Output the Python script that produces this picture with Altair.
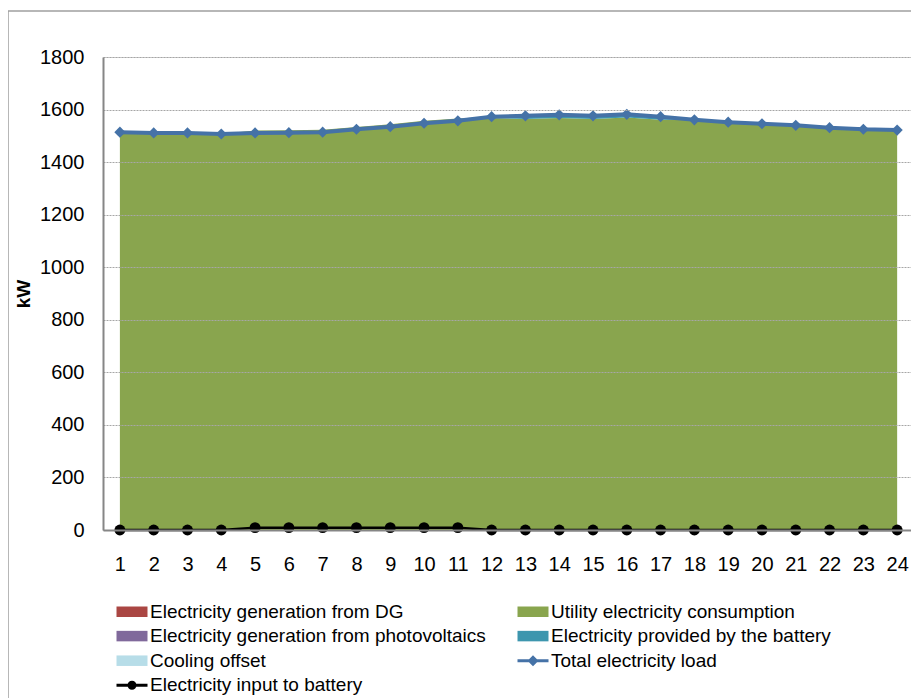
import altair as alt
import pandas as pd

hours = list(range(1, 25))
total_load = [1514, 1511, 1511, 1507, 1511, 1512, 1514, 1525, 1535, 1548, 1557, 1573,
              1576, 1580, 1576, 1582, 1573, 1561, 1552, 1546, 1540, 1531, 1525, 1522]
utility = [1514, 1511, 1511, 1507, 1520, 1521, 1523, 1534, 1544, 1557, 1566, 1568,
           1564, 1568, 1564, 1570, 1561, 1561, 1552, 1546, 1540, 1531, 1525, 1522]
battery_provided = [0, 0, 0, 0, 0, 0, 0, 0, 0, 0, 0, 5,
                    12, 12, 12, 12, 12, 0, 0, 0, 0, 0, 0, 0]
battery_input = [0, 0, 0, 0, 9, 9, 9, 9, 9, 9, 9, 0,
                 0, 0, 0, 0, 0, 0, 0, 0, 0, 0, 0, 0]
dg = [0] * 24
pv = [0] * 24
cooling = [0] * 24

# legend order (filled column by column: left column first, then right column)
series_names = ["Electricity generation from DG", "Electricity generation from photovoltaics",
                "Cooling offset", "Electricity input to battery",
                "Utility electricity consumption", "Electricity provided by the battery",
                "Total electricity load"]
series_colors = ["#AA4643", "#80699B", "#B7DDE8", "#000000", "#89A54E", "#3D96AE", "#4572A7"]
y_ticks = [0, 200, 400, 600, 800, 1000, 1200, 1400, 1600, 1800]

# stacked area components, bottom first
area_names = ["Electricity generation from DG", "Electricity generation from photovoltaics",
              "Utility electricity consumption", "Electricity provided by the battery", "Cooling offset"]
area_values = [dg, pv, utility, battery_provided, cooling]
area_colors = ["#AA4643", "#80699B", "#89A54E", "#3D96AE", "#B7DDE8"]

rows = []
for k, (nm, vals) in enumerate(zip(area_names, area_values)):
    for h, v in zip(hours, vals):
        rows.append({"hour": h, "component": nm, "value": v, "ord": k})
area_df = pd.DataFrame(rows)
line_df = pd.DataFrame({"hour": hours, "total": total_load, "input": battery_input})
legend_df = pd.DataFrame({"series": series_names})
frame_df = pd.DataFrame({"a": [0]})

FONT = "Liberation Sans"
W, H = 808, 473

rect_path = "M-1,-1.05H5.2V1.05H-1Z"
diamond_path = "M-1,-0.3H5.2V0.3H-1Z M2.1,-1.1L3.2,0L2.1,1.1L1,0Z"
circle_path = "M-1,-0.3H5.2V0.3H-1Z M1.2,0A0.9,0.9 0 1,1 3.0,0A0.9,0.9 0 1,1 1.2,0Z"
series_paths = [rect_path, rect_path, rect_path, circle_path, rect_path, rect_path, diamond_path]

xscale = alt.Scale(domain=[0.5, 24.41], nice=False, zero=False)
yscale = alt.Scale(domain=[0, 1800], nice=False)

xaxis = alt.Axis(values=hours, title=None, ticks=False, grid=False, labelFont=FONT,
                 labelFontSize=20, labelColor="black", labelPadding=24, labelOverlap=False,
                 domainColor="#868686", domainWidth=2, zindex=1, labelFlush=False, format="d")
yaxis = alt.Axis(values=y_ticks, title="kW", ticks=False, grid=True, gridDash=[2, 1],
                 gridColor="#a6a6a6", gridWidth=1, labelFont=FONT, labelFontSize=20,
                 labelColor="black", labelPadding=19, domainColor="#868686", domainWidth=2,
                 titleFont=FONT, titleFontSize=19, titleFontWeight="bold", titleColor="black",
                 titlePadding=6, zindex=1, format="d", labelOverlap=False)

frame = alt.Chart(frame_df).mark_rect(fill=None, stroke="#a0a0a0", strokeWidth=1.5, clip=False).encode(
    x=alt.value(-95), x2=alt.value(W + 60), y=alt.value(-46), y2=alt.value(H + 300))

area = alt.Chart(area_df).mark_area(opacity=1, interpolate="linear").encode(
    x=alt.X("hour:Q", scale=xscale, axis=xaxis),
    y=alt.Y("value:Q", stack="zero", scale=yscale, axis=yaxis),
    color=alt.Color("component:N", scale=alt.Scale(domain=area_names, range=area_colors), legend=None),
    order=alt.Order("ord:Q"),
)

total_line = alt.Chart(line_df).mark_line(
    color="#4572A7", strokeWidth=4,
    point=alt.OverlayMarkDef(shape="diamond", size=125, color="#4572A7", filled=True, opacity=1),
).encode(x=alt.X("hour:Q", scale=xscale, axis=xaxis), y=alt.Y("total:Q", scale=yscale, axis=yaxis))

input_line = alt.Chart(line_df).mark_line(
    color="#000000", strokeWidth=2.5,
    point=alt.OverlayMarkDef(shape="circle", size=120, color="#000000", filled=True, opacity=1),
).encode(x=alt.X("hour:Q", scale=xscale, axis=xaxis), y=alt.Y("input:Q", scale=yscale, axis=yaxis))

leg_props = dict(orient="none", legendX=9, legendY=545, columns=2, columnPadding=27,
                 rowPadding=4.6, labelFont=FONT, labelFontSize=19, labelColor="black",
                 labelLimit=600, symbolSize=100, symbolStrokeWidth=0, labelOffset=19,
                 title=None, padding=0, symbolOpacity=1, gridAlign="each")

legend_layer = alt.Chart(legend_df).mark_point(filled=True, opacity=1).encode(
    color=alt.Color("series:N", scale=alt.Scale(domain=series_names, range=series_colors),
                    legend=alt.Legend(**leg_props)),
    shape=alt.Shape("series:N", scale=alt.Scale(domain=series_names, range=series_paths),
                    legend=alt.Legend(**leg_props)),
).transform_filter("false")

chart = alt.layer(frame, area, total_line, input_line, legend_layer).resolve_scale(
    color="independent", shape="independent"
).properties(
    width=W, height=H,
    autosize=alt.AutoSizeParams(type="none"),
    padding={"left": 95, "top": 49, "right": 0, "bottom": 168},
).configure_view(stroke=None).configure_axis(labelOverlap=False).configure(background="white")

chart.save("out.html", embed_options={"renderer": "svg", "actions": False})
